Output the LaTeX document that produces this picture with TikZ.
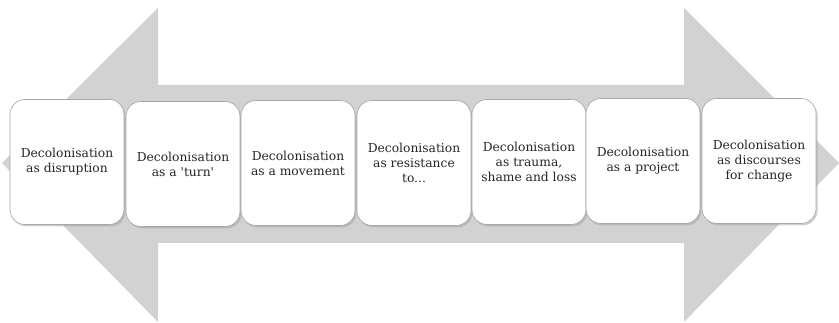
\documentclass[tikz,border=0pt]{standalone}
\usepackage{fontspec}
\setmainfont{DejaVu Serif}
\usetikzlibrary{shadows}
\begin{document}
\begin{tikzpicture}[x=1pt,y=1pt,
  stagebox/.style={draw=gray!70, line width=0.6pt, fill=white, rounded corners=15pt,
    minimum width=114pt, minimum height=125pt, align=center, text=black!85,
    font=\fontsize{12.3}{15}\selectfont, inner sep=2pt,
    drop shadow={shadow xshift=1.5pt, shadow yshift=-2pt, opacity=0.45, fill=gray!80}},
  bigarrow/.style={fill=gray!35, draw=none}]
\useasboundingbox (0,0) rectangle (839,323);
% double-headed arrow (y = 323 - pixel y)
\fill[bigarrow] (2,160) -- (158,315) -- (158,238) -- (684,238) -- (684,315)
  -- (839,160) -- (684,1) -- (684,80) -- (158,80) -- (158,1) -- cycle;
\node[stagebox] (s1) at (67,161) {Decolonisation\\as disruption};
\node[stagebox] (s2) at (183,159) {Decolonisation\\as a \textquotesingle turn\textquotesingle};
\node[stagebox] (s3) at (298,160) {Decolonisation\\as a movement};
\node[stagebox] (s4) at (414,160) {Decolonisation\\as resistance\\to...};
\node[stagebox] (s5) at (529,161) {Decolonisation\\as trauma,\\shame and loss};
\node[stagebox] (s6) at (643,162) {Decolonisation\\as a project};
\node[stagebox] (s7) at (759,162) {Decolonisation\\as discourses\\for change};
\end{tikzpicture}
\end{document}
